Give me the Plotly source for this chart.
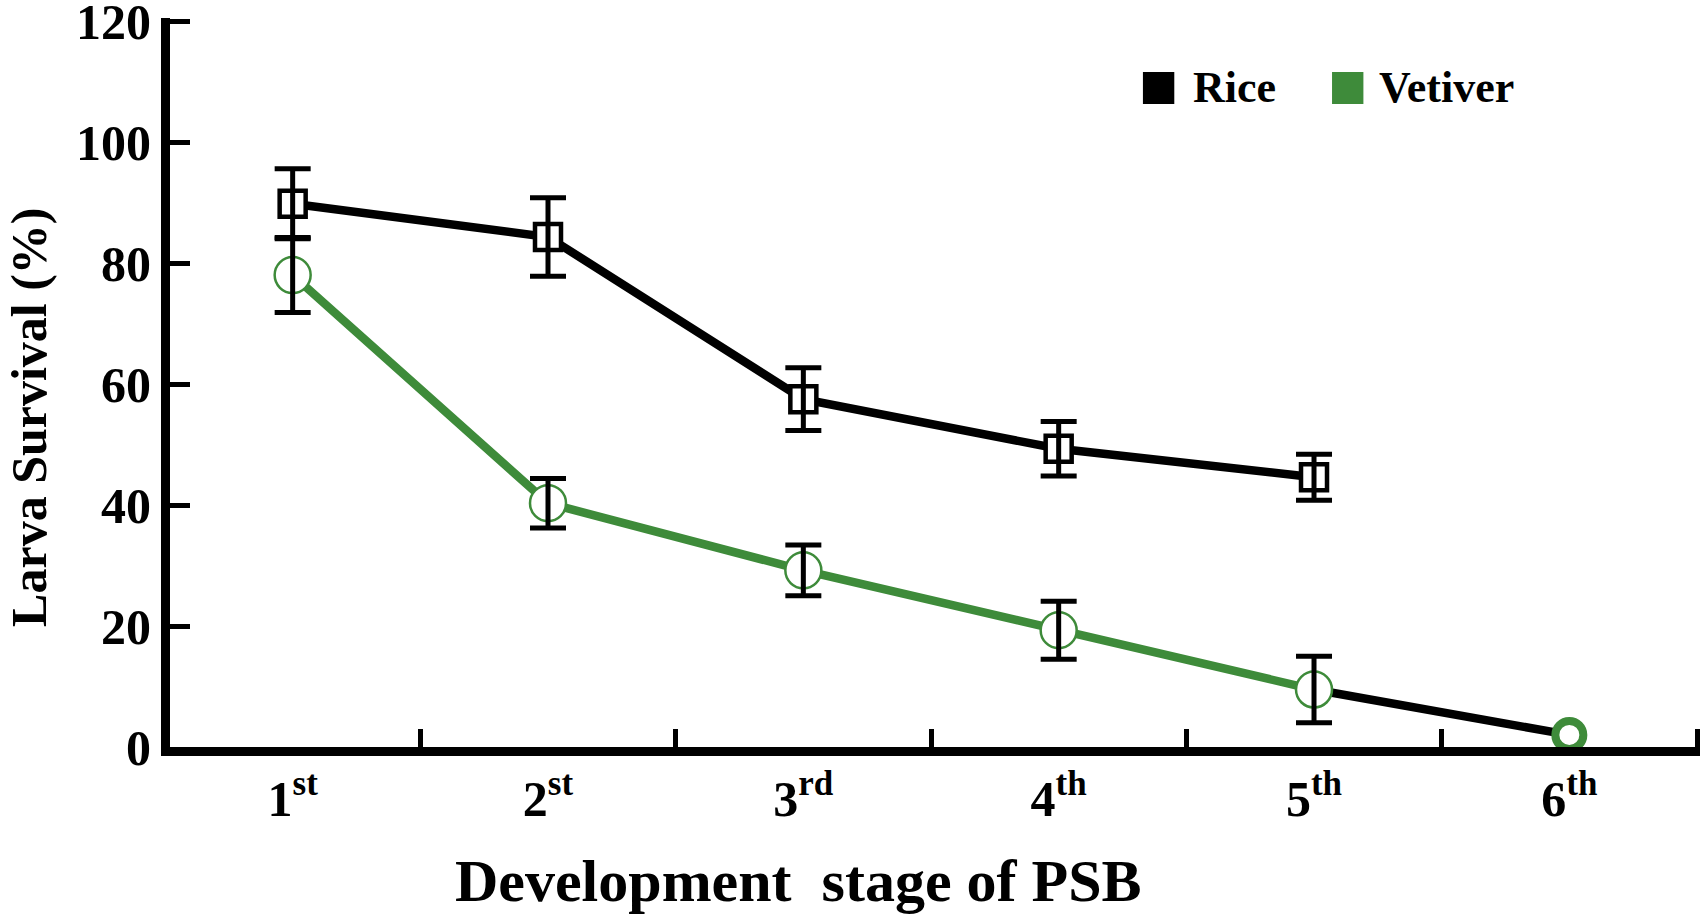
import plotly.graph_objects as go

# Larval survival of PSB across development stages on two host plants
stages = ["1st", "2nd", "3rd", "4th", "5th", "6th"]
stage_labels = ["1<sup>st</sup>", "2<sup>st</sup>", "3<sup>rd</sup>",
                "4<sup>th</sup>", "5<sup>th</sup>", "6<sup>th</sup>"]

rice_stages = stages[:5]
rice_mean = [89.8, 84.3, 57.5, 49.3, 44.6]
rice_err = [5.8, 6.5, 5.2, 4.5, 3.8]

vetiver_mean = [78.0, 40.3, 29.2, 19.3, 9.5, 2.0]
vetiver_err = [6.2, 4.1, 4.2, 4.8, 5.5]   # no error bar at the 6th stage

y_ticks = [0, 20, 40, 60, 80, 100, 120]

BLACK = "#000000"
GREEN = "#3e8b3a"
SERIF = "Liberation Serif"

fig = go.Figure()

# connecting lines
fig.add_trace(go.Scatter(x=stages[4:6], y=vetiver_mean[4:6], mode="lines",
                         line=dict(color=BLACK, width=8.5), showlegend=False))
fig.add_trace(go.Scatter(x=rice_stages, y=rice_mean, mode="lines",
                         line=dict(color=BLACK, width=8.5), showlegend=False))
fig.add_trace(go.Scatter(x=stages[:5], y=vetiver_mean[:5], mode="lines",
                         line=dict(color=GREEN, width=8.5), showlegend=False))

# markers
fig.add_trace(go.Scatter(x=rice_stages, y=rice_mean, mode="markers",
                         marker=dict(symbol="square", size=26, color="white", opacity=1,
                                     line=dict(color=BLACK, width=4.5)),
                         cliponaxis=False, showlegend=False))
ring_w = [2.5] * 5 + [8]
ring_size = [36] * 5 + [28]
fig.add_trace(go.Scatter(x=stages, y=vetiver_mean, mode="markers",
                         marker=dict(symbol="circle", size=ring_size, color="white", opacity=1,
                                     line=dict(color=GREEN, width=ring_w)),
                         cliponaxis=False, showlegend=False))

# error bars drawn over the markers
fig.add_trace(go.Scatter(x=rice_stages, y=rice_mean, mode="markers",
                         marker=dict(size=1, opacity=0),
                         error_y=dict(type="data", array=rice_err, visible=True,
                                      color=BLACK, thickness=5, width=18),
                         cliponaxis=False, showlegend=False))
fig.add_trace(go.Scatter(x=stages[:5], y=vetiver_mean[:5], mode="markers",
                         marker=dict(size=1, opacity=0),
                         error_y=dict(type="data", array=vetiver_err, visible=True,
                                      color=BLACK, thickness=5, width=18),
                         cliponaxis=False, showlegend=False))

tick_font = dict(family=SERIF, size=50, color=BLACK, weight="bold")

fig.update_xaxes(type="category", categoryorder="array", categoryarray=stages,
                 range=[-0.4804, 5.5117], tickmode="array", tickvals=stages,
                 ticktext=stage_labels, tickson="boundaries",
                 ticks="inside", ticklen=18, tickwidth=5, tickcolor=BLACK,
                 showline=True, linewidth=9, linecolor=BLACK,
                 showgrid=False, zeroline=False, tickfont=tick_font,
                 ticklabeloverflow="allow", automargin=False)
fig.update_yaxes(range=[0, 120.5], tickmode="array", tickvals=y_ticks,
                 ticks="inside", ticklen=20, tickwidth=5, tickcolor=BLACK,
                 showline=True, linewidth=9, linecolor=BLACK,
                 showgrid=False, zeroline=False, tickfont=tick_font,
                 ticklabeloverflow="allow", automargin=False)

# legend keys and labels
legend_items = [("Rice", BLACK, 0.6359, 0.6673), ("Vetiver", GREEN, 0.7595, 0.7889)]
shapes = []
annotations = []
for name, color, x0, xt in legend_items:
    shapes.append(dict(type="rect", xref="paper", yref="paper",
                       x0=x0, x1=x0 + 0.0205, y0=0.882, y1=0.9259,
                       fillcolor=color, line=dict(width=0), layer="above"))
    annotations.append(dict(text=name, xref="paper", yref="paper", x=xt, y=0.904,
                            xanchor="left", yanchor="middle", showarrow=False,
                            font=dict(family=SERIF, size=44, color=BLACK, weight="bold")))

annotations.append(dict(text="Development\u00a0\u00a0stage of PSB", xref="paper", yref="paper",
                        x=0.4111, y=-0.1838, xanchor="center", yanchor="middle",
                        showarrow=False,
                        font=dict(family=SERIF, size=60, color=BLACK, weight="bold")))
annotations.append(dict(text="Larva Survival (%)", xref="paper", yref="paper",
                        x=-0.0922, y=0.4527, xanchor="center", yanchor="middle",
                        textangle=-90, showarrow=False,
                        font=dict(family=SERIF, size=50, color=BLACK, weight="bold")))

fig.update_layout(width=1701, height=914, autosize=False,
                  margin=dict(l=170, r=1, t=18, b=167, autoexpand=False),
                  plot_bgcolor="white", paper_bgcolor="white",
                  shapes=shapes, annotations=annotations, showlegend=False)

fig.write_html("out.html", config={"displayModeBar": False},
               post_script="document.body.style.margin='0';")
